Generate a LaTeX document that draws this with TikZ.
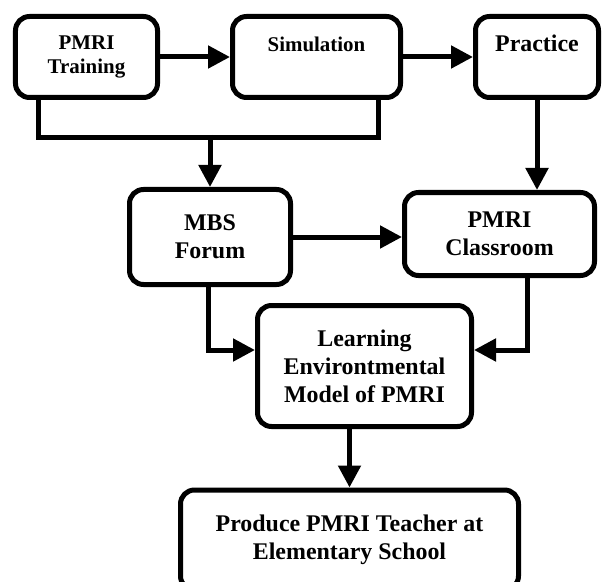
\documentclass[tikz,border=0pt]{standalone}
\usepackage{fontspec}
\setmainfont{Liberation Serif}
\usetikzlibrary{arrows.meta}

\begin{document}
\begin{tikzpicture}[x=1bp, y=-1bp, every node/.style={rectangle, draw, align=center, rounded corners=14bp, line width=5bp, inner sep=0pt, font=\bfseries\fontsize{24}{28}\selectfont}, small/.style={font=\bfseries\fontsize{21}{25}\selectfont}, arrow/.style={-{Triangle[length=22bp, width=22bp]}, line width=5bp}, line/.style={line width=5bp}]
	\useasboundingbox (0,0) rectangle (605,582);
	\node (train) [small, minimum width=142bp, minimum height=81bp] at (86.5,57) {PMRI\\Training};
	\node (sim) [small, minimum width=168bp, minimum height=81bp] at (316.5,57) {Simulation\\~};
	\node (prac) [minimum width=123bp, minimum height=81bp] at (537,57) {Practice\\~};
	\node (mbs) [minimum width=161bp, minimum height=95bp] at (210,237) {MBS\\Forum};
	\node (class) [minimum width=190bp, minimum height=83bp] at (499.5,234) {PMRI\\Classroom};
	\node (learn) [minimum width=214bp, minimum height=121bp] at (364.5,366) {Learning\\Environtmental\\Model of PMRI};
	\node (prod) [minimum width=338bp, minimum height=100bp] at (349.5,540) {Produce PMRI Teacher at\\Elementary School};

	\draw [arrow] (train) -- (sim);
	\draw [arrow] (sim) -- (prac);
	\draw [line] ([xshift=-48.5bp]train.south) -- ++(0,37.5) -| ([xshift=61.5bp]sim.south);
	\draw [arrow] (mbs.north |- 0,135) -- (mbs.north);
	\draw [arrow] (prac.south) -- (prac.south |- class.north);
	\draw [arrow] (mbs.east) -- (mbs.east -| class.west);
	\draw [arrow] ([xshift=-2bp]mbs.south) |- ([yshift=16bp]learn.west);
	\draw [arrow] ([xshift=27.5bp]class.south) |- ([yshift=16bp]learn.east);
	\draw [arrow] (learn.south -| prod.north) -- (prod.north);

\end{tikzpicture}
\end{document}
